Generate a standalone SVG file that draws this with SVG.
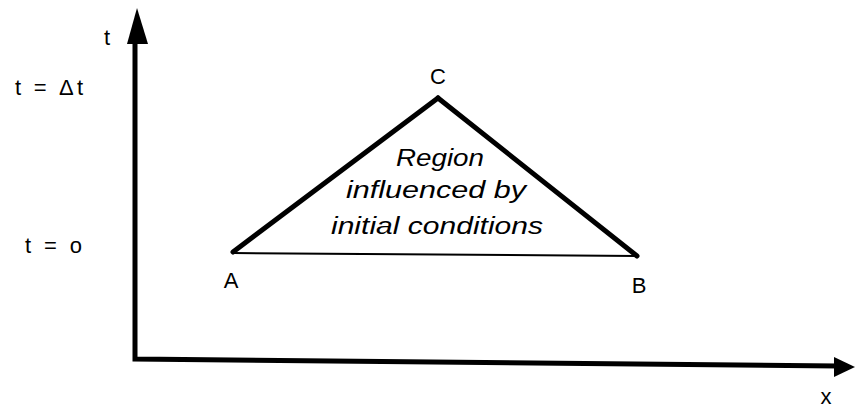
<svg xmlns="http://www.w3.org/2000/svg" width="855" height="409" viewBox="0 0 855 409">
<style>
.lbl{font-family:"Liberation Sans",Arial,sans-serif;font-size:22px;fill:#000}
.it{font-family:"Liberation Sans",Arial,sans-serif;font-size:23px;font-style:italic;fill:#000;text-anchor:middle}
.axis{stroke:#000;stroke-width:5;fill:none}
.edge{stroke:#000;stroke-width:5;fill:none;stroke-linecap:round}
</style>
<rect width="855" height="409" fill="#fff"/>
<g id="axes">
<polyline class="axis" points="135,40 135,359 838,366"/>
<polygon points="137,8 127,44 148,44" fill="#000"/>
<polygon points="855,367 834,357 834,377" fill="#000"/>
</g>
<g id="connectors">
<line class="edge" x1="233" y1="252" x2="438" y2="98"/>
<line class="edge" x1="438" y1="98" x2="637" y2="256"/>
<line x1="233" y1="253" x2="637" y2="256" stroke="#000" stroke-width="2"/>
</g>
<g id="labels">
<text class="lbl" x="107" y="45" text-anchor="middle">t</text>
<text class="lbl" x="15" y="95" textLength="68" lengthAdjust="spacing">t = Δt</text>
<text class="lbl" x="25" y="253" textLength="57" lengthAdjust="spacing">t = o</text>
<text class="lbl" x="438" y="84" text-anchor="middle">C</text>
<text class="lbl" x="231" y="288" text-anchor="middle">A</text>
<text class="lbl" x="639" y="293" text-anchor="middle">B</text>
<text class="lbl" x="826" y="404" text-anchor="middle">x</text>
</g>
<g id="region">
<text class="it" x="440" y="166" textLength="88" lengthAdjust="spacingAndGlyphs">Region</text>
<text class="it" x="436" y="198" textLength="180" lengthAdjust="spacingAndGlyphs">influenced by</text>
<text class="it" x="437" y="234" textLength="212" lengthAdjust="spacingAndGlyphs">initial conditions</text>
</g>
</svg>
